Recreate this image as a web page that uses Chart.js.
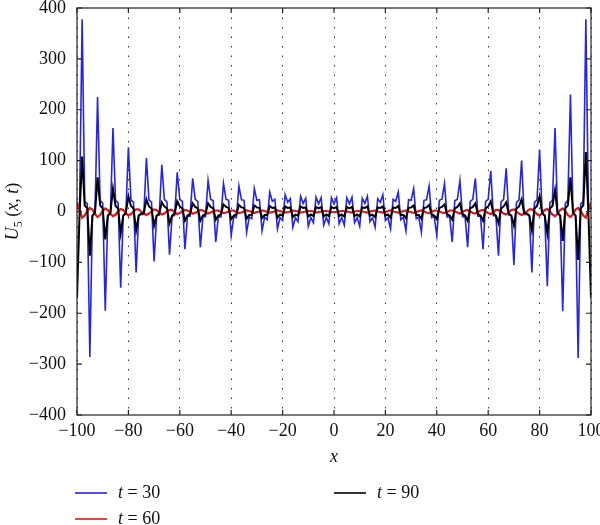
<!DOCTYPE html>
<html>
<head>
<meta charset="utf-8">
<script src="https://cdn.jsdelivr.net/npm/chart.js@4.4.1/dist/chart.umd.min.js"></script>
<style>
  html, body { margin: 0; padding: 0; background: #fff; }
  #wrap { width: 600px; height: 525px; }
</style>
</head>
<body>
<div id="wrap"><canvas id="myChart"></canvas></div>
<script>
// x positions along the axis
var xs = [-100,-99,-98,-97,-96,-95,-94,-93,-92,-91,
  -90,-89,-88,-87,-86,-85,-84,-83,-82,-81,
  -80,-79,-78,-77,-76,-75,-74,-73,-72,-71,
  -70,-69,-68,-67,-66,-65,-64,-63,-62,-61,
  -60,-59,-58,-57,-56,-55,-54,-53,-52,-51,
  -50,-49,-48,-47,-46,-45,-44,-43,-42,-41,
  -40,-39,-38,-37,-36,-35,-34,-33,-32,-31,
  -30,-29,-28,-27,-26,-25,-24,-23,-22,-21,
  -20,-19,-18,-17,-16,-15,-14,-13,-12,-11,
  -10,-9,-8,-7,-6,-5,-4,-3,-2,-1,
  0,
  1,2,3,4,5,6,7,8,9,10,
  11,12,13,14,15,16,17,18,19,20,
  21,22,23,24,25,26,27,28,29,30,
  31,32,33,34,35,36,37,38,39,40,
  41,42,43,44,45,46,47,48,49,50,
  51,52,53,54,55,56,57,58,59,60,
  61,62,63,64,65,66,67,68,69,70,
  71,72,73,74,75,76,77,78,79,80,
  81,82,83,84,85,86,87,88,89,90,
  91,92,93,94,95,96,97,98,99,100];

// t = 30
var u30 = [5,10,378,20,15,-286,-8,-3,225,22,
  16,-195,-8,-4,164,22,17,-150,-8,-5,
  126,23,18,-120,-8,-6,-6,105,23,18,
  -98,-8,-7,92,24,19,-85,-9,-8,77,
  24,20,-74,-9,-9,65,24,20,-70,-10,
  -10,61,24,21,-60,-10,-11,55,24,22,
  -47,-10,-12,50,23,22,-41,-11,-14,45,
  22,23,-38,-11,-16,38,20,24,-34,-12,
  -18,33,18,25,-31,-12,-20,30,16,26,
  -29,-12,-22,28,15,27,-27,-12,-24,27,
  15,
  27,-24,-12,-27,27,15,28,-22,-12,-29,
  26,16,30,-20,-12,-31,25,18,33,-18,
  -12,-34,24,20,38,-16,-11,-38,23,22,
  45,-14,-11,-41,22,23,50,-12,-10,-47,
  22,24,55,-11,-10,-60,21,24,61,-10,
  -10,-70,20,24,65,-9,-9,-74,20,24,
  80,-8,-9,-87,19,24,85,-7,-8,-105,
  18,23,100,-6,-6,-8,-120,18,23,122,
  -5,-8,-147,17,22,164,-4,-8,-196,16,
  22,230,-3,-8,-288,15,20,378,10,5];

// t = 60
var u60 = [18,3,-12,-8,1,7,4,-5,-11,-7,
  1,6,3,-5,-9,-6,0,5,3,-3,
  -8,-5,0,4,4,0,-4,-7,-4,0,
  4,3,-2,-6,-4,0,3,3,-2,-5,
  -3,0,3,2,-1,-4,-3,0,3,2,
  -1,-4,-2,0,2,2,-1,-3,-2,0,
  2,2,-1,-3,-2,0,2,1,-1,-3,
  -1,0,2,1,-1,-2,-1,0,2,1,
  -1,-2,-1,0,2,1,0,-2,-1,0,
  1,1,0,-2,-1,0,1,1,0,-1,
  -1,
  -1,0,1,1,0,-1,-2,0,1,1,
  0,-1,-2,0,1,2,0,-1,-2,-1,
  1,2,0,-1,-2,-1,1,2,0,-1,
  -3,-1,1,2,0,-2,-3,-1,2,2,
  0,-2,-3,-1,2,2,0,-2,-4,-1,
  2,3,0,-3,-4,-1,2,3,0,-3,
  -5,-2,3,3,0,-4,-6,-2,3,4,
  0,-4,-7,-4,0,4,4,0,-5,-8,
  -3,3,5,0,-6,-9,-5,3,6,1,
  -7,-11,-5,4,7,1,-8,-12,3,18];

// t = 90
var u90 = [-170,-5,108,12,6,-87,-8,-2,67,12,
  6,-55,-8,-3,45,11,6,-43,-8,-3,
  30,11,6,-37,-8,-4,-3,24,10,6,
  -28,-8,-4,18,10,6,-23,-8,-4,20,
  10,6,-18,-8,-5,16,9,6,-18,-8,
  -5,16,9,6,-16,-8,-6,14,9,7,
  -15,-8,-6,13,8,7,-14,-7,-7,12,
  8,7,-13,-7,-7,11,7,8,-12,-6,
  -8,10,7,8,-11,-6,-8,10,7,8,
  -10,-6,-9,9,6,9,-10,-6,-9,9,
  6,
  9,-9,-6,-10,9,6,9,-9,-6,-10,
  8,7,10,-8,-6,-11,8,7,10,-8,
  -6,-12,8,7,11,-7,-7,-13,7,8,
  12,-7,-7,-14,7,8,13,-6,-8,-15,
  7,9,14,-6,-8,-16,6,9,16,-5,
  -8,-18,6,9,16,-5,-8,-18,6,10,
  20,-4,-8,-23,6,10,18,-4,-8,-28,
  6,10,24,-3,-4,-8,-37,6,11,30,
  -3,-8,-43,6,11,42,-3,-8,-58,6,
  12,67,-2,-8,-95,6,12,117,-5,-170];

var xTicks = [-100,-80,-60,-40,-20,0,20,40,60,80,100];
var yTicks = [-400,-300,-200,-100,0,100,200,300,400];
var tValues = ['30', '60', '90'];
var colors = ['#2424ee', '#e0161c', '#000000'];

function pts(vals) {
  return xs.map(function (x, i) { return { x: x, y: vals[i] }; });
}
function fmt(v) {
  return v < 0 ? '\u2212' + Math.abs(v) : String(v);
}

var SERIF = "'Liberation Serif', 'DejaVu Serif', serif";
Chart.defaults.font.family = SERIF;
Chart.defaults.font.size = 18;
Chart.defaults.color = '#111';

// draws the box, inward ticks, axis titles and the two-column legend
var framePlugin = {
  id: 'frame',
  afterDraw: function (chart) {
    var ctx = chart.ctx, a = chart.chartArea;
    var x = chart.scales.x, y = chart.scales.y;
    ctx.save();
    ctx.strokeStyle = '#222';
    ctx.lineWidth = 1.2;
    ctx.strokeRect(a.left, a.top, a.right - a.left, a.bottom - a.top);
    ctx.beginPath();
    xTicks.forEach(function (v) {
      var px = x.getPixelForValue(v);
      ctx.moveTo(px, a.bottom); ctx.lineTo(px, a.bottom - 5);
      ctx.moveTo(px, a.top); ctx.lineTo(px, a.top + 5);
    });
    yTicks.forEach(function (v) {
      var py = y.getPixelForValue(v);
      ctx.moveTo(a.left, py); ctx.lineTo(a.left + 5, py);
      ctx.moveTo(a.right, py); ctx.lineTo(a.right - 5, py);
    });
    ctx.stroke();

    ctx.fillStyle = '#111';
    ctx.textBaseline = 'alphabetic';

    // x title
    ctx.font = 'italic 18px ' + SERIF;
    ctx.textAlign = 'center';
    ctx.fillText('x', (a.left + a.right) / 2, 462);

    // y title  U5 (x, t)
    var parts = [
      { t: 'U', f: 'italic 18px ', dy: 0 },
      { t: '5', f: '12px ', dy: 4 },
      { t: ' (', f: '18px ', dy: 0 },
      { t: 'x', f: 'italic 18px ', dy: 0 },
      { t: ', ', f: '18px ', dy: 0 },
      { t: 't', f: 'italic 18px ', dy: 0 },
      { t: ')', f: '18px ', dy: 0 }
    ];
    var total = 0;
    parts.forEach(function (p) { ctx.font = p.f + SERIF; p.w = ctx.measureText(p.t).width; total += p.w; });
    ctx.translate(18, (a.top + a.bottom) / 2);
    ctx.rotate(-Math.PI / 2);
    ctx.textAlign = 'left';
    var cx = -total / 2;
    parts.forEach(function (p) { ctx.font = p.f + SERIF; ctx.fillText(p.t, cx, p.dy); cx += p.w; });
    ctx.setTransform(1, 0, 0, 1, 0, 0);
    ctx.scale(chart.currentDevicePixelRatio, chart.currentDevicePixelRatio);

    // legend: column 1 holds t=30 and t=60, column 2 holds t=90
    var slots = [[75, 493], [75, 519], [334, 493]];
    chart.data.datasets.forEach(function (ds, i) {
      var sx = slots[i][0], sy = slots[i][1];
      ctx.strokeStyle = ds.borderColor;
      ctx.lineWidth = 1.6;
      ctx.beginPath(); ctx.moveTo(sx, sy); ctx.lineTo(sx + 32, sy); ctx.stroke();
      ctx.fillStyle = '#111';
      ctx.textBaseline = 'middle';
      ctx.font = 'italic 18px ' + SERIF;
      ctx.fillText('t', sx + 43, sy);
      var tw = ctx.measureText('t').width;
      ctx.font = '18px ' + SERIF;
      ctx.fillText(' = ' + tValues[i], sx + 43 + tw, sy);
    });
    ctx.restore();
  }
};

var ctx = document.getElementById('myChart');
var myChart = new Chart(ctx, {
  type: 'line',
  data: {
    datasets: [
      { label: 't = 30', data: pts(u30), borderColor: colors[0], borderWidth: 1.6, order: 3 },
      { label: 't = 60', data: pts(u60), borderColor: colors[1], borderWidth: 2.2, order: 2 },
      { label: 't = 90', data: pts(u90), borderColor: colors[2], borderWidth: 2, order: 1 }
    ]
  },
  options: {
    responsive: true,
    maintainAspectRatio: false,
    animation: false,
    layout: { padding: { top: 8, right: 9, bottom: 0, left: 0 } },
    elements: { point: { radius: 0 }, line: { tension: 0, fill: false } },
    plugins: { legend: { display: false }, tooltip: { enabled: false } },
    scales: {
      x: {
        type: 'linear', min: -100, max: 100,
        afterBuildTicks: function (s) { s.ticks = xTicks.map(function (v) { return { value: v }; }); },
        afterFit: function (s) { s.height = 110; s.paddingRight = 0; s.paddingLeft = 0; },
        ticks: { callback: fmt, padding: 5, maxRotation: 0, color: '#111' },
        grid: { color: '#333', lineWidth: 1, drawTicks: false },
        border: { display: false, dash: [1.5, 8] }
      },
      y: {
        min: -400, max: 400,
        afterBuildTicks: function (s) { s.ticks = yTicks.map(function (v) { return { value: v }; }); },
        afterFit: function (s) { s.width = 77; s.paddingTop = 0; s.paddingBottom = 0; },
        ticks: { callback: fmt, padding: 11, color: '#111' },
        grid: { display: false, drawTicks: false },
        border: { display: false }
      }
    }
  },
  plugins: [framePlugin]
});
</script>
</body>
</html>
